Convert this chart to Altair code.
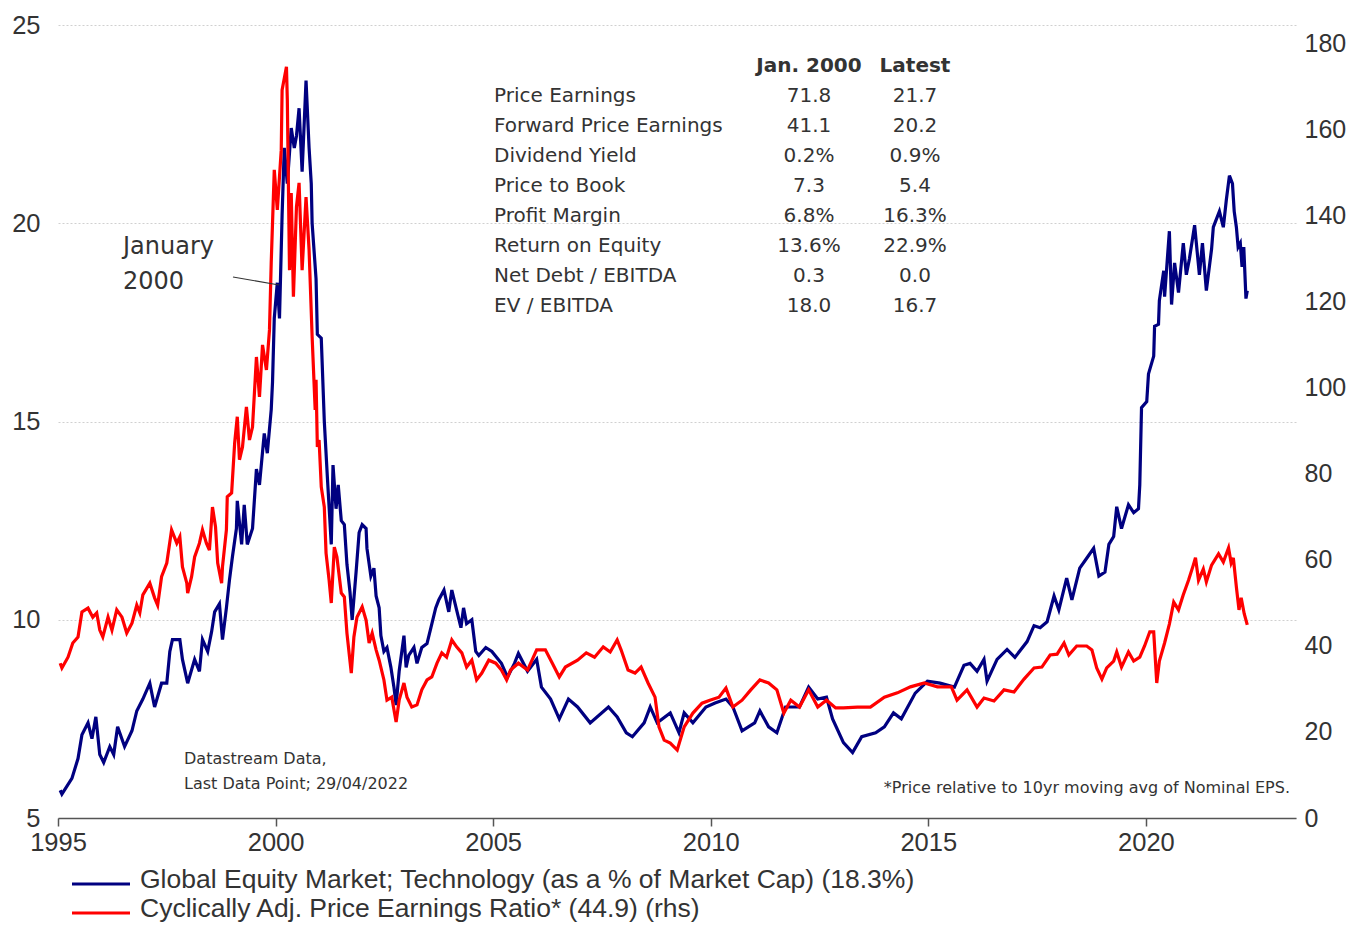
import altair as alt
import pandas as pd

# ---------------- data ----------------
blue_year = [1995.05, 1995.09, 1995.32, 1995.46, 1995.55, 1995.69, 1995.78, 1995.87, 1995.96, 1996.05,
             1996.19, 1996.28, 1996.37, 1996.53, 1996.70, 1996.81, 1996.95, 1997.11, 1997.22, 1997.38,
             1997.50, 1997.57, 1997.63, 1997.80, 1997.86, 1997.98, 1998.14, 1998.25, 1998.32, 1998.44,
             1998.53, 1998.60, 1998.71, 1998.78, 1998.87, 1998.94, 1999.01, 1999.10, 1999.12, 1999.22,
             1999.28, 1999.35, 1999.47, 1999.56, 1999.63, 1999.74, 1999.81, 1999.90, 1999.93, 1999.97,
             2000.04, 2000.09, 2000.15, 2000.20, 2000.27, 2000.36, 2000.43, 2000.48, 2000.54, 2000.61,
             2000.70, 2000.77, 2000.82, 2000.84, 2000.93, 2000.96, 2001.05, 2001.12, 2001.19, 2001.28,
             2001.32, 2001.39, 2001.44, 2001.51, 2001.58, 2001.64, 2001.71, 2001.76, 2001.85, 2001.92,
             2001.99, 2002.08, 2002.10, 2002.19, 2002.26, 2002.31, 2002.38, 2002.42, 2002.49, 2002.56,
             2002.65, 2002.72, 2002.77, 2002.84, 2002.95, 2003.00, 2003.06, 2003.18, 2003.25, 2003.36,
             2003.48, 2003.57, 2003.68, 2003.75, 2003.87, 2003.98, 2004.05, 2004.16, 2004.26, 2004.32,
             2004.39, 2004.51, 2004.60, 2004.67, 2004.83, 2004.97, 2005.19, 2005.33, 2005.49, 2005.58,
             2005.79, 2006.00, 2006.11, 2006.32, 2006.52, 2006.73, 2006.94, 2007.23, 2007.65, 2007.85,
             2008.06, 2008.20, 2008.47, 2008.61, 2008.77, 2009.07, 2009.27, 2009.39, 2009.59, 2009.89,
             2010.10, 2010.35, 2010.51, 2010.72, 2011.01, 2011.13, 2011.33, 2011.52, 2011.72, 2012.04,
             2012.25, 2012.46, 2012.66, 2012.80, 2013.05, 2013.26, 2013.47, 2013.79, 2013.99, 2014.20,
             2014.38, 2014.70, 2014.98, 2015.27, 2015.60, 2015.82, 2015.96, 2016.12, 2016.28, 2016.35,
             2016.58, 2016.81, 2016.99, 2017.27, 2017.43, 2017.57, 2017.73, 2017.89, 2018.00, 2018.18,
             2018.30, 2018.48, 2018.64, 2018.80, 2018.92, 2019.06, 2019.15, 2019.26, 2019.33, 2019.44,
             2019.60, 2019.72, 2019.83, 2019.86, 2019.90, 2020.02, 2020.06, 2020.18, 2020.20, 2020.29,
             2020.31, 2020.41, 2020.43, 2020.54, 2020.59, 2020.66, 2020.75, 2020.86, 2020.93, 2021.00,
             2021.12, 2021.23, 2021.30, 2021.39, 2021.51, 2021.55, 2021.69, 2021.78, 2021.85, 2021.92,
             2021.99, 2022.03, 2022.08, 2022.12, 2022.17, 2022.21, 2022.25, 2022.30, 2022.33]
blue_val = [5.7, 5.6, 6.0, 6.5, 7.1, 7.4, 7.0, 7.55, 6.6, 6.4,
            6.8, 6.6, 7.3, 6.8, 7.2, 7.7, 8.0, 8.4, 7.8, 8.4,
            8.4, 9.2, 9.5, 9.5, 9.0, 8.4, 9.0, 8.7, 9.5, 9.2,
            9.7, 10.2, 10.4, 9.5, 10.3, 11.0, 11.6, 12.3, 13.0, 11.9,
            12.9, 11.9, 12.3, 13.8, 13.4, 14.7, 14.2, 15.3, 16.0, 17.6,
            18.5, 17.6, 20.2, 21.9, 21.0, 22.4, 21.9, 22.2, 22.9, 21.3,
            23.6, 21.9, 21.0, 20.0, 18.6, 17.2, 17.1, 15.0, 13.6, 11.9,
            13.9, 12.8, 13.4, 12.5, 12.4, 11.4, 10.7, 10.0, 11.2, 12.2,
            12.4, 12.3, 11.8, 11.1, 11.3, 10.6, 10.3, 9.6, 9.2, 9.3,
            8.8, 8.3, 7.85, 8.7, 9.6, 8.8, 9.1, 9.3, 8.9, 9.3,
            9.4, 9.8, 10.3, 10.5, 10.75, 10.2, 10.75, 10.25, 9.8, 10.3,
            9.9, 10.0, 9.2, 9.1, 9.3, 9.2, 8.9, 8.55, 8.9, 9.15,
            8.7, 9.0, 8.3, 8.0, 7.5, 8.0, 7.8, 7.4, 7.8, 7.55,
            7.15, 7.05, 7.4, 7.8, 7.4, 7.65, 7.15, 7.65, 7.4, 7.8,
            7.9, 8.0, 7.8, 7.2, 7.4, 7.7, 7.3, 7.15, 7.8, 7.8,
            8.3, 8.0, 8.05, 7.5, 6.9, 6.65, 7.05, 7.15, 7.3, 7.65,
            7.5, 8.15, 8.45, 8.4, 8.3, 8.85, 8.9, 8.7, 9.0, 8.45,
            9.0, 9.25, 9.05, 9.45, 9.85, 9.8, 9.95, 10.6, 10.25, 11.05,
            10.5, 11.3, 11.55, 11.8, 11.1, 11.2, 11.9, 12.1, 12.85, 12.3,
            12.9, 12.7, 12.8, 13.4, 15.35, 15.5, 16.2, 16.65, 17.4, 17.45,
            18.05, 18.8, 18.15, 19.8, 17.95, 19.0, 18.25, 19.5, 18.7, 19.1,
            19.95, 18.7, 19.5, 18.3, 19.35, 19.9, 20.3, 19.9, 20.6, 21.2,
            21.0, 20.3, 19.9, 19.4, 19.5, 18.9, 19.4, 18.1, 18.3]

red_year = [1995.05, 1995.09, 1995.23, 1995.34, 1995.46, 1995.55, 1995.69, 1995.80, 1995.89, 1995.96,
            1996.03, 1996.15, 1996.24, 1996.35, 1996.47, 1996.58, 1996.70, 1996.81, 1996.88, 1996.95,
            1997.11, 1997.22, 1997.29, 1997.38, 1997.50, 1997.61, 1997.73, 1997.80, 1997.86, 1997.96,
            1997.98, 1998.07, 1998.14, 1998.25, 1998.32, 1998.41, 1998.48, 1998.55, 1998.62, 1998.67,
            1998.76, 1998.78, 1998.87, 1998.89, 1998.99, 1999.06, 1999.12, 1999.17, 1999.24, 1999.33,
            1999.40, 1999.47, 1999.56, 1999.63, 1999.70, 1999.79, 1999.86, 1999.90, 1999.97, 2000.04,
            2000.13, 2000.15, 2000.25, 2000.27, 2000.32, 2000.36, 2000.41, 2000.48, 2000.54, 2000.61,
            2000.70, 2000.77, 2000.84, 2000.91, 2000.93, 2000.96, 2001.00, 2001.05, 2001.12, 2001.16,
            2001.23, 2001.28, 2001.35, 2001.41, 2001.51, 2001.58, 2001.64, 2001.74, 2001.80, 2001.87,
            2001.99, 2002.08, 2002.15, 2002.22, 2002.31, 2002.38, 2002.49, 2002.56, 2002.67, 2002.77,
            2002.84, 2002.95, 2003.02, 2003.13, 2003.25, 2003.36, 2003.48, 2003.59, 2003.71, 2003.82,
            2003.93, 2004.05, 2004.16, 2004.28, 2004.39, 2004.51, 2004.62, 2004.74, 2004.90, 2005.06,
            2005.19, 2005.31, 2005.40, 2005.58, 2005.79, 2006.00, 2006.20, 2006.36, 2006.52, 2006.66,
            2006.94, 2007.14, 2007.33, 2007.53, 2007.69, 2007.85, 2007.94, 2008.10, 2008.26, 2008.40,
            2008.56, 2008.72, 2008.81, 2008.93, 2009.07, 2009.23, 2009.39, 2009.59, 2009.80, 2009.98,
            2010.19, 2010.35, 2010.51, 2010.72, 2010.92, 2011.13, 2011.33, 2011.52, 2011.68, 2011.84,
            2012.04, 2012.25, 2012.46, 2012.66, 2012.87, 2013.05, 2013.37, 2013.67, 2013.99, 2014.29,
            2014.59, 2014.91, 2015.21, 2015.53, 2015.66, 2015.89, 2016.12, 2016.28, 2016.51, 2016.74,
            2016.97, 2017.20, 2017.43, 2017.61, 2017.80, 2017.96, 2018.12, 2018.23, 2018.41, 2018.64,
            2018.76, 2018.87, 2018.99, 2019.10, 2019.26, 2019.33, 2019.44, 2019.60, 2019.72, 2019.86,
            2019.97, 2020.09, 2020.18, 2020.25, 2020.31, 2020.43, 2020.54, 2020.64, 2020.75, 2020.86,
            2020.98, 2021.09, 2021.14, 2021.21, 2021.32, 2021.39, 2021.51, 2021.67, 2021.78, 2021.90,
            2021.96, 2022.01, 2022.08, 2022.14, 2022.19, 2022.26, 2022.33]
red_val = [36.0, 34.9, 37.4, 40.7, 42.1, 47.9, 48.8, 46.7, 47.7, 43.7,
           42.1, 46.7, 43.7, 48.4, 46.7, 43.0, 45.3, 49.5, 47.7, 51.9,
           54.6, 51.2, 49.5, 56.1, 59.3, 67.0, 63.9, 65.4, 58.4, 54.6,
           52.3, 56.1, 60.7, 63.9, 67.0, 63.9, 62.3, 72.3, 67.7, 59.3,
           54.6, 58.4, 67.0, 74.7, 75.6, 87.2, 93.3, 83.3, 86.3, 95.6,
           87.9, 90.9, 107.2, 97.9, 110.0, 104.2, 113.5, 129.1, 150.7, 141.4,
           155.3, 169.3, 174.7, 167.0, 127.4, 145.3, 121.2, 142.1, 147.7, 127.4,
           144.4, 132.1, 111.9, 94.9, 101.9, 86.3, 87.9, 77.0, 72.3, 61.6,
           55.3, 50.0, 63.0, 60.7, 52.3, 51.4, 43.0, 33.7, 42.1, 46.7,
           49.1, 46.0, 40.7, 43.0, 39.1, 36.7, 32.1, 27.4, 28.1, 22.3,
           27.4, 31.4, 28.1, 25.8, 26.3, 29.8, 32.1, 32.8, 36.0, 38.4,
           37.4, 41.4, 39.8, 38.4, 35.1, 36.7, 32.1, 33.7, 36.7, 36.0,
           34.4, 32.1, 34.4, 36.0, 34.4, 39.1, 39.1, 36.0, 32.8, 35.1,
           36.7, 38.4, 37.4, 39.8, 38.6, 41.4, 39.1, 34.4, 33.7, 35.1,
           31.4, 28.1, 21.2, 18.1, 17.4, 15.8, 21.2, 24.4, 26.7, 27.4,
           28.1, 30.2, 25.8, 27.4, 29.8, 32.1, 31.4, 29.8, 24.4, 27.4,
           25.8, 29.8, 25.8, 27.4, 25.6, 25.6, 25.8, 25.8, 28.1, 29.1,
           30.5, 31.4, 30.5, 30.5, 27.4, 29.8, 25.8, 27.9, 27.2, 29.8,
           29.3, 32.3, 34.9, 35.1, 37.9, 38.1, 40.7, 37.9, 40.0, 40.0,
           39.1, 34.9, 32.3, 34.9, 36.5, 38.6, 35.1, 38.6, 36.5, 37.4,
           40.0, 43.3, 43.3, 31.4, 36.5, 40.7, 45.1, 50.2, 48.4, 51.9,
           55.3, 58.8, 60.5, 55.3, 57.9, 54.9, 58.8, 61.4, 59.5, 62.8,
           59.3, 60.5, 53.7, 48.4, 51.2, 47.5, 44.9]

table_labels = ["Price Earnings", "Forward Price Earnings", "Dividend Yield", "Price to Book",
                "Profit Margin", "Return on Equity", "Net Debt / EBITDA", "EV / EBITDA"]
table_jan = ["71.8", "41.1", "0.2%", "7.3", "6.8%", "13.6%", "0.3", "18.0"]
table_latest = ["21.7", "20.2", "0.9%", "5.4", "16.3%", "22.9%", "0.0", "16.7"]
table_headers = ["Jan. 2000", "Latest"]

legend_labels = ["Global Equity Market; Technology (as a % of Market Cap) (18.3%)",
                 "Cyclically Adj. Price Earnings Ratio* (44.9) (rhs)"]
legend_colors = ["#000080", "#ff0000"]

annotation_lines = ["January", "2000"]
source_lines = ["Datastream Data,", "Last Data Point; 29/04/2022"]
footnote = "*Price relative to 10yr moving avg of Nominal EPS."

x_ticks = [1995, 2000, 2005, 2010, 2015, 2020]
left_ticks = [5, 10, 15, 20, 25]
right_ticks = [0, 20, 40, 60, 80, 100, 120, 140, 160, 180]

# ---------------- chart ----------------
W, H = 1238, 793
AX_FONT = "Liberation Sans"
TX_FONT = "DejaVu Sans"
TXT = "#333333"

blue_df = pd.DataFrame({"year": blue_year, "value": blue_val})
red_df = pd.DataFrame({"year": red_year, "value": red_val})

x_scale = alt.Scale(domain=[1995, 2023.45], nice=False, zero=False)
x_enc = alt.X("year:Q", scale=x_scale,
              axis=alt.Axis(values=x_ticks, format="d", title=None, grid=False,
                            labelFont=AX_FONT, labelFontSize=25.5, labelColor=TXT,
                            tickColor="#555555", tickSize=8, tickWidth=1.5,
                            domainColor="#555555", domainWidth=1.5, labelPadding=4,
                            labelFlush=False))

blue = alt.Chart(blue_df).mark_line(color="#000080", strokeWidth=3.2).encode(
    x=x_enc,
    y=alt.Y("value:Q", scale=alt.Scale(domain=[5, 25], nice=False, zero=False),
            axis=alt.Axis(values=left_ticks, title=None, orient="left", domain=False,
                          ticks=False, grid=True, gridColor="#d0d0d0", gridDash=[2, 2],
                          gridWidth=1, labelFont=AX_FONT, labelFontSize=25.5,
                          labelColor=TXT, labelPadding=18)),
)

red = alt.Chart(red_df).mark_line(color="#ff0000", strokeWidth=3.2).encode(
    x=alt.X("year:Q", scale=x_scale),
    y=alt.Y("value:Q", scale=alt.Scale(domain=[0, 184.4], nice=False, zero=False),
            axis=alt.Axis(values=right_ticks, title=None, orient="right", domain=False,
                          ticks=False, grid=False, labelFont=AX_FONT, labelFontSize=25,
                          labelColor=TXT, labelPadding=8)),
)

# stats table
table_df = pd.DataFrame({"row": list(range(len(table_labels))), "label": table_labels,
                         "jan": table_jan, "latest": table_latest})
row_y = alt.Y("row:Q", scale=alt.Scale(domain=[0, 7], range=[71, 281]), axis=None)
t_label = alt.Chart(table_df).mark_text(align="left", baseline="middle", font=TX_FONT,
                                        fontSize=20, color=TXT).encode(
    x=alt.value(436), y=row_y, text="label:N")
t_jan = alt.Chart(table_df).mark_text(align="center", baseline="middle", font=TX_FONT,
                                      fontSize=20, color=TXT).encode(
    x=alt.value(751), y=row_y, text="jan:N")
t_latest = alt.Chart(table_df).mark_text(align="center", baseline="middle", font=TX_FONT,
                                         fontSize=20, color=TXT).encode(
    x=alt.value(857), y=row_y, text="latest:N")
hdr_df = pd.DataFrame({"h": table_headers})
t_hdr1 = alt.Chart(hdr_df.iloc[[0]]).mark_text(align="center", baseline="middle", font=TX_FONT,
                                               fontSize=20, fontWeight="bold", color=TXT).encode(
    x=alt.value(751), y=alt.value(41), text="h:N")
t_hdr2 = alt.Chart(hdr_df.iloc[[1]]).mark_text(align="center", baseline="middle", font=TX_FONT,
                                               fontSize=20, fontWeight="bold", color=TXT).encode(
    x=alt.value(857), y=alt.value(41), text="h:N")

# January 2000 annotation
ann_df = pd.DataFrame({"t": annotation_lines, "row": [0, 1]})
ann = alt.Chart(ann_df).mark_text(align="left", baseline="middle", font=TX_FONT,
                                  fontSize=24, color=TXT).encode(
    x=alt.value(65),
    y=alt.Y("row:Q", scale=alt.Scale(domain=[0, 1], range=[222, 257]), axis=None),
    text="t:N")
leader = alt.Chart(pd.DataFrame({"a": [0]})).mark_rule(color="#333333", strokeWidth=1.2).encode(
    x=alt.value(175), x2=alt.value(221), y=alt.value(252), y2=alt.value(260))

# source / footnote
src_df = pd.DataFrame({"t": source_lines, "row": [0, 1]})
src = alt.Chart(src_df).mark_text(align="left", baseline="middle", font=TX_FONT,
                                  fontSize=16, color=TXT).encode(
    x=alt.value(126),
    y=alt.Y("row:Q", scale=alt.Scale(domain=[0, 1], range=[734, 759]), axis=None),
    text="t:N")
foot = alt.Chart(pd.DataFrame({"t": [footnote]})).mark_text(
    align="right", baseline="middle", font=TX_FONT, fontSize=16, color=TXT).encode(
    x=alt.value(1232), y=alt.value(763), text="t:N")

# legend
leg_df = pd.DataFrame({"t": legend_labels, "c": legend_colors, "row": [0, 1]})
leg_lines = alt.Chart(leg_df).mark_rule(strokeWidth=3).encode(
    x=alt.value(14), x2=alt.value(72),
    y=alt.Y("row:Q", scale=alt.Scale(domain=[0, 1], range=[859, 888]), axis=None),
    color=alt.Color("c:N", scale=None, legend=None))
leg_text = alt.Chart(leg_df).mark_text(align="left", baseline="middle", font=AX_FONT,
                                       fontSize=26.5, color=TXT).encode(
    x=alt.value(82),
    y=alt.Y("row:Q", scale=alt.Scale(domain=[0, 1], range=[855, 884]), axis=None),
    text="t:N")

chart = alt.layer(
    blue, red, t_label, t_jan, t_latest, t_hdr1, t_hdr2, ann, leader, src, foot,
    leg_lines, leg_text
).resolve_scale(
    y="independent"
).properties(
    width=W, height=H,
    padding={"left": 50, "top": 17, "right": 50, "bottom": 106},
    autosize=alt.AutoSizeParams(type="none"),
).configure_view(stroke=None)

chart.save("out.html", embed_options={"renderer": "svg", "actions": False})
